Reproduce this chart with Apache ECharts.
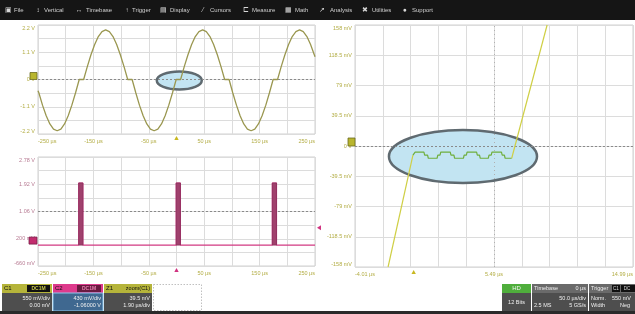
<!DOCTYPE html>
<html><head><meta charset="utf-8">
<script src="https://cdn.jsdelivr.net/npm/echarts@6/dist/echarts.min.js"></script>
<style>html,body{margin:0;padding:0;background:#fff;}#c{width:635px;height:314px;}</style>
</head><body><div id="c"></div>
<script>
// ---------- data ----------
const menuLabels = ['File','Vertical','Timebase','Trigger','Display','Cursors','Measure','Math','Analysis','Utilities','Support'];
const menuIcons  = ['\u25A3','\u2195','\u2194','\u2191','\u25A4','\u2044','\u228F','\u25A6','\u2197','\u2716','\u25CF'];

// C1 main trace (µs, V)
const c1Time = [
-250.0,-248.5,-241.9,-235.2,-228.6,-222.0,-215.4,-208.7,-202.1,-195.5,-188.9,-182.2,-175.6,
-167.6,-161.0,-154.4,-147.7,-141.1,-134.5,-127.9,-121.2,-114.6,-108.0,-101.4,-94.7,-88.1,
-80.1,-73.5,-66.9,-60.2,-53.6,-47.0,-40.4,-33.7,-27.1,-20.5,-13.9,-7.2,-0.6,
7.4,14.0,20.7,27.3,33.9,40.5,47.2,53.8,60.4,67.0,73.7,80.3,86.9,
94.9,101.5,108.2,114.8,121.4,128.0,134.7,141.3,147.9,154.5,161.2,167.8,174.4,
182.4,189.0,195.7,202.3,208.9,215.5,222.2,228.8,235.4,242.0,248.7,250.0];
const c1Volt = [
-0.45,-0.535,-1.035,-1.465,-1.795,-2.0,-2.07,-2.0,-1.795,-1.465,-1.035,-0.535,0,
0,0.518,1.0,1.414,1.732,1.932,2.0,1.932,1.732,1.414,1.0,0.518,0,
0,-0.535,-1.035,-1.465,-1.795,-2.0,-2.07,-2.0,-1.795,-1.465,-1.035,-0.535,0,
0,0.518,1.0,1.414,1.732,1.932,2.0,1.932,1.732,1.414,1.0,0.518,0,
0,-0.535,-1.035,-1.465,-1.795,-2.0,-2.07,-2.0,-1.795,-1.465,-1.035,-0.535,0,
0,0.518,1.0,1.414,1.732,1.932,2.0,1.932,1.732,1.414,1.0,0.92];

// C2 pulse trace (µs, V)
const c2PulseStart = [-176.5, -0.5, 173.0];
const c2PulseEnd   = [-169.0, 7.0, 180.5];
const c2PulseHigh  = 1.96;
const c2Low        = 0;
const c2Range      = [-250, 250];
const c2Center     = 1.06;   // display offset (V)

// Z1 zoom trace (µs, mV)
const zRiseATime = [-1.75, -0.05];
const zRiseAVolt = [-158, -12];
const zStepTime = [-0.05,0.1,0.7,0.75,0.95,1.0,1.6,1.65,1.8,1.85,2.5,2.55,2.75,2.8,3.4,3.45,3.6,3.65,4.3,4.35,4.5,4.55,5.1,5.15,5.3,5.35,6.0,6.05,6.2,6.25,6.7];
const zStepVolt = [-12,-8,-8,-12,-12,-16,-16,-12,-12,-8,-8,-12,-12,-16,-16,-12,-12,-8,-8,-12,-12,-16,-16,-12,-12,-8,-8,-12,-12,-16,-16];
const zRiseBTime = [6.7, 9.12];
const zRiseBVolt = [-16, 158];
const zCenter = 5.49;  // µs, display centre

// tick labels
const mainXTicks  = [-250,-150,-50,50,150,250];
const mainXLabels = ['-250 \u00B5s','-150 \u00B5s','-50 \u00B5s','50 \u00B5s','150 \u00B5s','250 \u00B5s'];
const c1YTicks  = [-2.2,-1.1,0,1.1,2.2];
const c1YLabels = ['-2.2 V','-1.1 V','0 V','1.1 V','2.2 V'];
const c2YTicks  = [-0.66,0.2,1.06,1.92,2.78];
const c2YLabels = ['-660 mV','200 mV','1.06 V','1.92 V','2.78 V'];
const zYTicks  = [-158,-118.5,-79,-39.5,0,39.5,79,118.5,158];
const zYLabels = ['-158 mV','-118.5 mV','-79 mV','-39.5 mV','0 V','39.5 mV','79 mV','118.5 mV','158 mV'];
const zXTicks  = [-4.01,5.49,14.99];
const zXLabels = ['-4.01 \u00B5s','5.49 \u00B5s','14.99 \u00B5s'];

// ---------- layout / style ----------
const FONT = 'Liberation Sans, Arial, sans-serif';
const menuTextX = [14,44,86,132,170,210,252,295,330,372,412];
const menuIconX = [8,38,79,127,163,203,246,288,322,365,405];
const GRID = '#dcdcdc';
const YEL = '#b3ad45';
const PINKLAB = '#b77a92';

function lab(vals, labels, v){
  for (let i=0;i<vals.length;i++) if (Math.abs(vals[i]-v) < 1e-6) return labels[i];
  return '';
}
function xAx(gi, min, max, interval, fmt, color){
  return {gridIndex:gi, type:'value', min, max, interval,
    axisLine:{show:false}, axisTick:{show:false},
    splitLine:{show:true, lineStyle:{color:GRID, width:1}},
    axisLabel:{show:true, fontSize:5.5, fontFamily:FONT, color, margin:4, formatter:fmt,
      showMinLabel:true, showMaxLabel:true, alignMinLabel:'left', alignMaxLabel:'right', hideOverlap:false}};
}
function yAx(gi, min, max, interval, fmt, color){
  return {gridIndex:gi, type:'value', min, max, interval,
    axisLine:{show:false}, axisTick:{show:false},
    splitLine:{show:true, lineStyle:{color:GRID, width:1}},
    axisLabel:{show:true, fontSize:5.5, fontFamily:FONT, color, margin:3, formatter:fmt,
      showMinLabel:true, showMaxLabel:true, verticalAlignMinLabel:'bottom', verticalAlignMaxLabel:'top', hideOverlap:false}};
}

// build series data
const c1Data = c1Time.map((t,i)=>[t, c1Volt[i]]);
const c2Line = [[c2Range[0], c2Low - c2Center]];
c2PulseStart.forEach((s,i)=>{
  c2Line.push([s, c2Low - c2Center],[s, c2PulseHigh - c2Center],[c2PulseEnd[i], c2PulseHigh - c2Center],[c2PulseEnd[i], c2Low - c2Center]);
});
c2Line.push([c2Range[1], c2Low - c2Center]);
const c2Rects = c2PulseStart.map((s,i)=>[s, c2PulseEnd[i], c2PulseHigh - c2Center, c2Low - c2Center]);
const zA = zRiseATime.map((t,i)=>[t - zCenter, zRiseAVolt[i]]);
const zS = zStepTime.map((t,i)=>[t - zCenter, zStepVolt[i]]);
const zB = zRiseBTime.map((t,i)=>[t - zCenter, zRiseBVolt[i]]);

const dotted = (color)=>({silent:true, symbol:'none', label:{show:false},
  lineStyle:{type:[2,2], color, width:1}, data:[{yAxis:0}]});

const chart = echarts.init(document.getElementById('c'), null, {renderer:'canvas'});
const gridBase = {show:true, borderColor:'#d0d0d0', borderWidth:1, backgroundColor:'#fff', containLabel:false, outerBoundsMode:'none'};
chart.setOption({
  animation:false,
  backgroundColor:'#ffffff',
  grid:[
    Object.assign({left:38, top:25, width:277, height:109}, gridBase),
    Object.assign({left:38, top:157, width:277, height:109}, gridBase),
    Object.assign({left:355, top:25, width:278, height:242}, gridBase)
  ],
  xAxis:[
    xAx(0,-250,250,50, v=>lab(mainXTicks, mainXLabels, v), YEL),
    xAx(1,-250,250,50, v=>lab(mainXTicks, mainXLabels, v), YEL),
    xAx(2,-9.5,9.5,1.9, v=>lab(zXTicks, zXLabels, v + zCenter), YEL)
  ],
  yAxis:[
    yAx(0,-2.2,2.2,0.55, v=>lab(c1YTicks, c1YLabels, v), YEL),
    yAx(1,-1.72,1.72,0.43, v=>lab(c2YTicks, c2YLabels, v + c2Center), PINKLAB),
    yAx(2,-158,158,39.5, v=>lab(zYTicks, zYLabels, v), YEL)
  ],
  series:[
    {type:'line', xAxisIndex:0, yAxisIndex:0, data:c1Data, showSymbol:false, z:5,
      lineStyle:{color:'#9a9750', width:1.3}, markLine:dotted('#8a8a8a')},
    {type:'line', xAxisIndex:1, yAxisIndex:1, data:c2Line, showSymbol:false, z:5,
      lineStyle:{color:'#d23a82', width:1.2}, markLine:dotted('#8a8a8a')},
    {type:'custom', xAxisIndex:1, yAxisIndex:1, z:6, data:c2Rects,
      encode:{x:[0,1], y:[2,3]},
      renderItem:(params, api)=>{
        const p0 = api.coord([api.value(0), api.value(2)]);
        const p1 = api.coord([api.value(1), api.value(3)]);
        return {type:'rect', shape:{x:p0[0], y:p0[1], width:p1[0]-p0[0], height:p1[1]-p0[1]},
          style:{fill:'#a0416d', stroke:'#8a2f5a', lineWidth:0.8}};
      }},
    {type:'line', xAxisIndex:2, yAxisIndex:2, data:zA, showSymbol:false, z:5,
      lineStyle:{color:'#cfcf45', width:1.2},
      markLine:{silent:true, symbol:'none', label:{show:false},
        data:[{yAxis:0, lineStyle:{type:[2,2], color:'#8a8a8a', width:1}},
              {xAxis:0, lineStyle:{type:[1,3], color:'#b0b0b0', width:1}}]}},
    {type:'line', xAxisIndex:2, yAxisIndex:2, data:zS, showSymbol:false, z:5,
      lineStyle:{color:'#6fae3d', width:1.2}},
    {type:'line', xAxisIndex:2, yAxisIndex:2, data:zB, showSymbol:false, z:5,
      lineStyle:{color:'#cfcf45', width:1.2}}
  ]
});

// ---------- decorations ----------
const P = (g, pt) => chart.convertToPixel({gridIndex:g}, pt);
const G = [];
function txt(text, x, y, size, fill, align, weight){
  G.push({type:'text', z:20, style:{text, x, y, fill, font:(weight||'normal')+' '+size+'px '+FONT,
    textAlign:align||'left', textVerticalAlign:'middle', align:align||'left', verticalAlign:'middle'}});
}
function rect(x,y,w,h,fill,stroke,lw,dash){
  G.push({type:'rect', z:15, shape:{x,y,width:w,height:h}, style:{fill, stroke:stroke||null, lineWidth:lw||0, lineDash:dash||null}});
}
function tri(pts, fill){ G.push({type:'polygon', z:15, shape:{points:pts}, style:{fill}}); }

// menu bar
rect(0,0,635,20,'#151515');
menuLabels.forEach((m,i)=>{
  txt(menuIcons[i], menuIconX[i], 10.5, 6.5, '#d8d8d8', 'center');
  txt(m, menuTextX[i], 10.5, 6, '#cfcfcf', 'left');
});

// ellipses (annotations, placed in data coordinates)
function ellipse(g, c, dx, dy){
  const pc = P(g, c), px = P(g, [c[0]+dx, c[1]]), py = P(g, [c[0], c[1]+dy]);
  G.push({type:'ellipse', z:1, shape:{cx:pc[0], cy:pc[1], rx:Math.abs(px[0]-pc[0]), ry:Math.abs(pc[1]-py[1])},
    style:{fill:'#c2e4f2', stroke:'#5f6a70', lineWidth:2.5}});
}
ellipse(0, [5, -0.04], 40.6, 0.36);
ellipse(2, [3.37 - zCenter, -13.7], 5.06, 34.6);

// channel markers
let p = P(0, [-250, 0]);
rect(p[0]-8, p[1]-7, 7, 7, '#b8b52e', '#6b6a20', 0.8);
p = P(1, [-250, c2Low - c2Center]);
rect(p[0]-9, p[1]-8, 8, 7, '#c22c6e', '#7a1e48', 0.8);
p = P(2, [-9.5, 0]);
rect(p[0]-7, p[1]-8, 7, 8, '#b8b52e', '#6b6a20', 0.8);

// trigger markers
p = P(0, [0, -2.2]);
tri([[p[0]-2.2,p[1]+6],[p[0]+2.2,p[1]+6],[p[0],p[1]+2]], '#c9b820');
p = P(1, [0, -1.72]);
tri([[p[0]-2.2,p[1]+6],[p[0]+2.2,p[1]+6],[p[0],p[1]+2]], '#d03380');
p = P(2, [0 - zCenter, -158]);
tri([[p[0]-2.2,p[1]+7],[p[0]+2.2,p[1]+7],[p[0],p[1]+3]], '#c9b820');
p = P(1, [250, 0.55 - c2Center]);
tri([[p[0]+2,p[1]],[p[0]+6,p[1]-2.5],[p[0]+6,p[1]+2.5]], '#d03380');

// bottom descriptor boxes
// C1
rect(2,284,50,9,'#b5b43a');
txt('C1',4,288.7,6,'#111','left');
rect(27,285,23,7,'#111'); txt('DC1M',38.5,288.7,5,'#c8c84a','center','bold');
rect(2,293,50,18,'#4e4e4e');
txt('550 mV/div',50,298.5,5.5,'#f0f0f0','right');
txt('0.00 mV',50,305.5,5.5,'#f0f0f0','right');
// C2
rect(53,284,50,9,'#de3a8c');
txt('C2',55,288.7,6,'#111','left');
rect(77,285,24,7,'#6a1a40'); txt('DC1M',89,288.7,5,'#e880b0','center','bold');
rect(53,293,50,18,'#3f6890','#8fc6ea',1);
txt('430 mV/div',101,298.5,5.5,'#f0f0f0','right');
txt('-1.06000 V',101,305.5,5.5,'#f0f0f0','right');
// Z1
rect(104,284,48,9,'#b5b43a');
txt('Z1',106,288.7,6,'#111','left');
txt('zoom(C1)',150,288.7,5.5,'#111','right');
rect(104,293,48,18,'#4e4e4e');
txt('39.5 mV',150,298.5,5.5,'#f0f0f0','right');
txt('1.90 \u00B5s/div',150,305.5,5.5,'#f0f0f0','right');
// empty
rect(153.5,284.5,48,26,'#ffffff','#b0b0b0',0.8,[1.5,1.5]);
// HD
rect(502,284,29,9,'#4fae3c');
txt('HD',516.5,288.7,6,'#f4f4f4','center');
rect(502,293,29,18,'#4e4e4e');
txt('12 Bits',516.5,302,5.5,'#f0f0f0','center');
// Timebase
rect(532,284,56,9,'#6a6a6a');
txt('Timebase',534,288.7,5.5,'#f0f0f0','left');
txt('0 \u00B5s',586,288.7,5.5,'#f0f0f0','right');
rect(532,293,56,18,'#4e4e4e');
txt('50.0 \u00B5s/div',586,298.5,5.5,'#f0f0f0','right');
txt('2.5 MS',534,305.5,5.5,'#f0f0f0','left');
txt('5 GS/s',586,305.5,5.5,'#f0f0f0','right');
// Trigger
rect(589,284,46,9,'#6a6a6a');
txt('Trigger',591,288.7,5.5,'#f0f0f0','left');
rect(612,285,8,7,'#111'); txt('C1',616,288.7,4.5,'#ddd','center');
rect(621,285,14,7,'#111'); txt('DC',627,288.7,4.5,'#ddd','center');
rect(589,293,46,18,'#4e4e4e');
txt('Norm.',591,298.5,5.5,'#f0f0f0','left');
txt('550 mV',612,298.5,5.5,'#f0f0f0','left');
txt('Width',591,305.5,5.5,'#f0f0f0','left');
txt('Neg',620,305.5,5.5,'#f0f0f0','left');
// bottom strip
rect(0,311,635,3,'#2a2a2a');

chart.setOption({graphic:{elements:G}});
</script></body></html>
